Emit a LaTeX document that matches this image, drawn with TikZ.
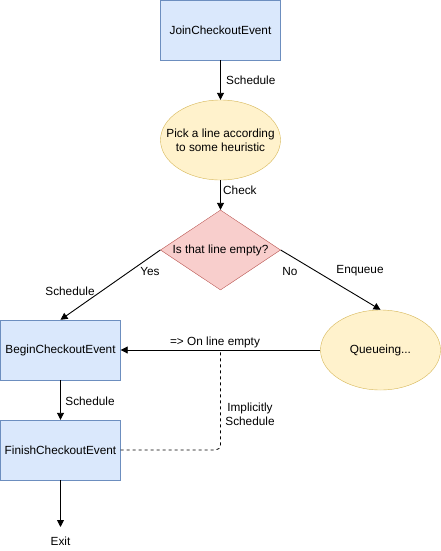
\documentclass[tikz,border=0pt]{standalone}
\usepackage{fontspec}
\setmainfont{Liberation Sans}
\usetikzlibrary{shapes.geometric,arrows.meta}
\definecolor{bfill}{HTML}{DAE8FC}
\definecolor{bline}{HTML}{6C8EBF}
\definecolor{yfill}{HTML}{FFF2CC}
\definecolor{yline}{HTML}{D6B656}
\definecolor{rfill}{HTML}{F8CECC}
\definecolor{rline}{HTML}{B85450}
\tikzset{
  evbox/.style={draw=bline, fill=bfill, minimum width=120pt, minimum height=60pt, inner sep=0pt},
  ell/.style={ellipse, draw=yline, fill=yfill, minimum width=120pt, minimum height=80pt, inner sep=0pt},
  dia/.style={diamond, draw=rline, fill=rfill, minimum width=120pt, minimum height=80pt, inner sep=0pt, aspect=1.5},
  conn/.style={draw=black, line width=0.9pt, -{Triangle[length=7pt,width=7pt]}},
  lbl/.style={inner sep=0pt, align=center}
}
\begin{document}
\begin{tikzpicture}[x=1pt, y=-1pt, font=\fontsize{11.8}{14}\selectfont]
\useasboundingbox (0,0) rectangle (441,551);
\node[evbox] (join) at (220.5,30) {JoinCheckoutEvent};
\node[ell] (pick) at (220.5,140) {};
\node[lbl] (picktxt) at (220.5,140) {Pick a line according\\to some heuristic};
\node[dia] (empty) at (220.5,250) {};
\node[lbl] (emptytxt) at (220.5,250) {Is that line empty?};
\node[evbox] (begin) at (60.5,350) {BeginCheckoutEvent};
\node[ell] (queue) at (380.5,350) {};
\node[lbl] (queuetxt) at (380.5,350) {Queueing...};
\node[evbox] (finish) at (60.5,450) {FinishCheckoutEvent};
\coordinate (exit) at (60.5,527);
\node[lbl] (exittxt) at (60.5,541) {Exit};
\coordinate (bend) at (220.5,351);

\draw[conn] (join.south) -- (pick.north);
\node[lbl, anchor=west] (l1) at (226,80) {Schedule};
\draw[conn] (pick.south) -- (empty.north);
\node[lbl, anchor=west] (l2) at (223,190) {Check};
\draw[conn] (empty.west) -- (begin.north);
\node[lbl] (l3) at (150,271) {Yes};
\node[lbl] (l4) at (70,291) {Schedule};
\draw[conn] (empty.east) -- (queue.north);
\node[lbl] (l5) at (290,271) {No};
\node[lbl] (l6) at (360,271) {Enqueue};
\draw[conn] (queue.west) -- (begin.east);
\node[lbl] (l7) at (215,342) {=> On line empty};
\draw[conn] (begin.south) -- (finish.north);
\node[lbl] (l8) at (90,401) {Schedule};
\draw[conn] (finish.south) -- (exit);
\draw[line width=0.8pt, dash pattern=on 3pt off 3pt, rounded corners=5pt] (finish.east) -| (bend);
\node[lbl] (l9) at (250,414) {Implicitly\\Schedule};
\end{tikzpicture}
\end{document}
